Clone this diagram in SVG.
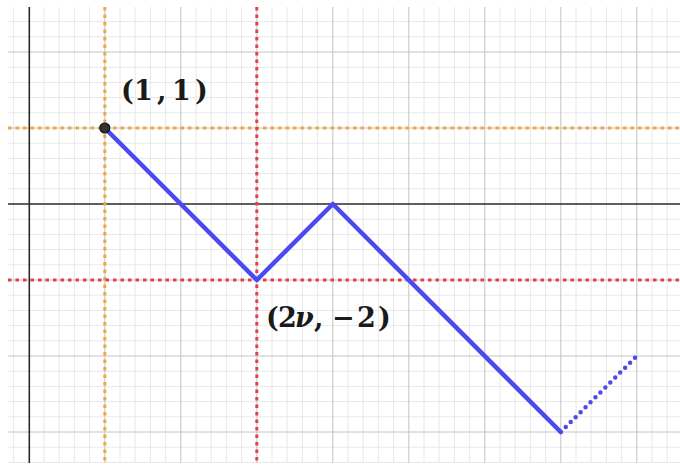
<svg xmlns="http://www.w3.org/2000/svg" width="680" height="465" viewBox="0 0 680 465">
<style>
.minor{stroke:#e8e8e8;stroke-width:1;fill:none}
.major{stroke:#c4c4c4;stroke-width:1;fill:none}
.axis{stroke:#2b2b2b;stroke-width:1.6;fill:none}
.orange{stroke:#f2a548;stroke-width:3;stroke-dasharray:3.5 4;fill:none}
.red{stroke:#e0404f;stroke-width:3;stroke-dasharray:3.5 4;fill:none}
.path{stroke:#4a4af0;stroke-width:4.5;stroke-linejoin:round;stroke-linecap:round;fill:none}
.dots{stroke:#4a4af0;stroke-width:4.5;stroke-linecap:round;stroke-dasharray:0 7;fill:none}
.lbl{font-family:"DejaVu Serif","Liberation Serif",serif;font-weight:bold;font-size:27px;fill:#1a1a1a}
</style>
<rect x="0" y="0" width="680" height="465" fill="#ffffff"/>
<g id="grid">
<path class="minor" d="M13.6 7V463M44 7V463M59.2 7V463M74.4 7V463M89.6 7V463M120 7V463M135.2 7V463M150.4 7V463M165.6 7V463M196 7V463M211.2 7V463M226.4 7V463M241.6 7V463M272 7V463M287.2 7V463M302.4 7V463M317.6 7V463M348 7V463M363.2 7V463M378.4 7V463M393.6 7V463M424 7V463M439.2 7V463M454.4 7V463M469.6 7V463M500 7V463M515.2 7V463M530.4 7V463M545.6 7V463M576 7V463M591.2 7V463M606.4 7V463M621.6 7V463M652 7V463M667.2 7V463"/>
<path class="minor" d="M8 21.6H680M8 36.8H680M8 67.2H680M8 82.4H680M8 97.6H680M8 112.8H680M8 143.2H680M8 158.4H680M8 173.6H680M8 188.8H680M8 219.2H680M8 234.4H680M8 249.6H680M8 264.8H680M8 295.2H680M8 310.4H680M8 325.6H680M8 340.8H680M8 371.2H680M8 386.4H680M8 401.6H680M8 416.8H680M8 447.2H680M8 462.4H680"/>
<path class="major" d="M104.8 7V463M180.8 7V463M256.8 7V463M332.8 7V463M408.8 7V463M484.8 7V463M560.8 7V463M636.8 7V463M8 52H680M8 128H680M8 280H680M8 356H680M8 432H680"/>
<path class="axis" d="M29.3 7V463M8 204H680"/>
</g>
<g id="guides">
<path class="orange" d="M104.8 7V463M8 128H680"/>
<path class="red" d="M256.8 7V463M8 280H680"/>
</g>
<g id="connectors">
<path class="path" d="M104.8 128L256.8 280L332.8 204L560.8 432"/>
<path class="dots" d="M560.8 432L636.8 356"/>
</g>
<g id="point-1-1">
<circle cx="104.8" cy="128" r="5" fill="#333333" stroke="#111111" stroke-width="1.2"/>
<text class="lbl" y="100"><tspan x="121">(</tspan><tspan x="134">1</tspan><tspan x="157">,</tspan><tspan x="172">1</tspan><tspan x="195">)</tspan></text>
</g>
<g id="point-2nu-minus2">
<text class="lbl" y="327"><tspan x="266">(</tspan><tspan x="278">2</tspan><tspan x="295" font-style="italic">ν</tspan><tspan x="314">,</tspan><tspan x="332">−</tspan><tspan x="357">2</tspan><tspan x="378">)</tspan></text>
</g>
</svg>
